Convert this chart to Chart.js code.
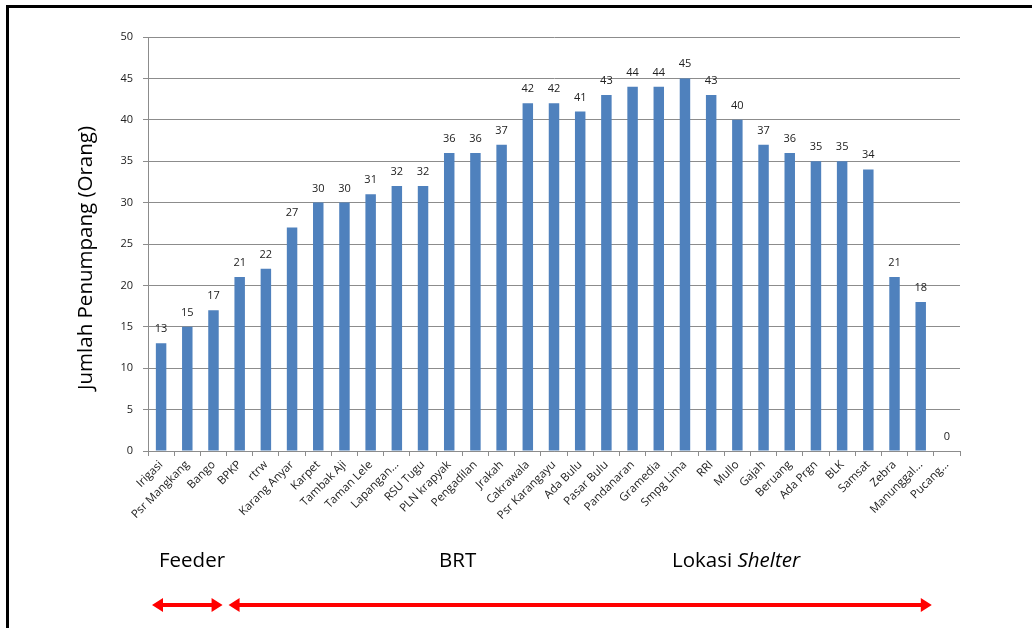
<!DOCTYPE html>
<html>
<head>
<meta charset="utf-8">
<script src="https://cdn.jsdelivr.net/npm/chart.js@4"></script>
<style>
  body { margin: 0; background: #fff; }
  #wrap { position: relative; width: 1032px; height: 628px; overflow: hidden; }
  #frame { position: absolute; left: 6px; top: 5px; width: 1100px; height: 700px;
           border-left: 3px solid #000; border-top: 3px solid #000; }
  canvas { position: absolute; left: 0; top: 0; }
  .note { position: absolute; font-family: "Open Sans", sans-serif; font-size: 20.5px; color: #000; line-height: 1; }
</style>
</head>
<body>
<div id="wrap">
  <div id="frame"></div>
  <canvas id="bar" width="1032" height="628"></canvas>
  <div class="note" style="left:159px;top:549px;">Feeder</div>
  <div class="note" style="left:439px;top:549px;">BRT</div>
  <div class="note" style="left:672px;top:549px;">Lokasi <i>Shelter</i></div>
</div>
<script>
const halte = ['Irigasi', 'Psr Mangkang', 'Bango', 'BPKP', 'rtrw', 'Karang Anyar', 'Karpet',
  'Tambak Aji', 'Taman Lele', 'Lapangan...', 'RSU Tugu', 'PLN krapyak', 'Pengadilan', 'Jrakah',
  'Cakrawala', 'Psr Karangayu', 'Ada Bulu', 'Pasar Bulu', 'Pandanaran', 'Gramedia', 'Smpg Lima',
  'RRI', 'Mullo', 'Gajah', 'Beruang', 'Ada Prgn', 'BLK', 'Samsat', 'Zebra', 'Manunggal...', 'Pucang...'];
const penumpang = [13, 15, 17, 21, 22, 27, 30, 30, 31, 32, 32, 36, 36, 37, 42, 42, 41, 43, 44, 44,
  45, 43, 40, 37, 36, 35, 35, 34, 21, 18, 0];
const yTicks = [0, 5, 10, 15, 20, 25, 30, 35, 40, 45, 50];
// rentang kategori untuk panah: [awal, akhir]
const feeder = [0, 2];
const brt = [3, 29];

const grey = '#8c8c8c';
const font = 'Open Sans';

const labelAtas = {
  id: 'labelAtas',
  afterDatasetsDraw(chart) {
    const ctx = chart.ctx;
    ctx.save();
    ctx.font = '11px "' + font + '"';
    ctx.fillStyle = '#222';
    ctx.textAlign = 'center';
    ctx.textBaseline = 'alphabetic';
    chart.getDatasetMeta(0).data.forEach((bar, i) => {
      ctx.fillText(penumpang[i], bar.x, bar.y - 11);
    });
    ctx.restore();
  }
};

// judul sumbu y digambar sendiri supaya posisinya sama dengan gambar asli
const judulY = {
  id: 'judulY',
  afterDraw(chart) {
    const ctx = chart.ctx;
    ctx.save();
    ctx.translate(86, 258);
    ctx.rotate(-Math.PI / 2);
    ctx.font = '20.5px "' + font + '"';
    ctx.fillStyle = '#000';
    ctx.textAlign = 'center';
    ctx.textBaseline = 'middle';
    ctx.fillText('Jumlah Penumpang (Orang)', 0, 0);
    ctx.restore();
  }
};

function panah(ctx, x1, x2, y) {
  const h = 7, w = 11;
  ctx.beginPath();
  ctx.moveTo(x1 + w - 1, y);
  ctx.lineTo(x2 - w + 1, y);
  ctx.stroke();
  ctx.beginPath();
  ctx.moveTo(x1, y); ctx.lineTo(x1 + w, y - h); ctx.lineTo(x1 + w, y + h); ctx.closePath();
  ctx.moveTo(x2, y); ctx.lineTo(x2 - w, y - h); ctx.lineTo(x2 - w, y + h); ctx.closePath();
  ctx.fill();
}

const panahBawah = {
  id: 'panahBawah',
  afterDraw(chart) {
    const x = chart.scales.x, ctx = chart.ctx;
    const half = (x.getPixelForValue(1) - x.getPixelForValue(0)) / 2;
    ctx.save();
    ctx.strokeStyle = '#ff0000';
    ctx.fillStyle = '#ff0000';
    ctx.lineWidth = 4;
    panah(ctx, x.getPixelForValue(feeder[0]) - half + 4, x.getPixelForValue(feeder[1]) + half - 4, 605);
    panah(ctx, x.getPixelForValue(brt[0]) - half + 2, x.getPixelForValue(brt[1]) + half - 2, 605);
    ctx.restore();
  }
};

new Chart(document.getElementById('bar'), {
  type: 'bar',
  data: {
    labels: halte,
    datasets: [{ data: penumpang, backgroundColor: '#4f81bd', categoryPercentage: 1, barPercentage: 0.4 }]
  },
  options: {
    responsive: false,
    animation: false,
    layout: { padding: { left: 0, top: 37, right: 72, bottom: 0 } },
    plugins: { legend: { display: false }, tooltip: { enabled: false } },
    scales: {
      y: {
        min: 0, max: 50,
        afterBuildTicks(s) { s.ticks = yTicks.map(v => ({ value: v })); },
        afterFit(s) { s.width = 148; },
        grid: { color: grey, tickLength: 5 },
        border: { color: grey },
        ticks: { font: { family: font, size: 11 }, color: '#222', padding: 10 }
      },
      x: {
        afterFit(s) { s.height = 628 - 451; },
        grid: { drawOnChartArea: false, color: grey, tickLength: 5 },
        border: { color: grey },
        ticks: { font: { family: font, size: 11.5 }, color: '#222', maxRotation: 45, minRotation: 45,
                 autoSkip: false, padding: 2 }
      }
    }
  },
  plugins: [labelAtas, judulY, panahBawah]
});
</script>
</body>
</html>
